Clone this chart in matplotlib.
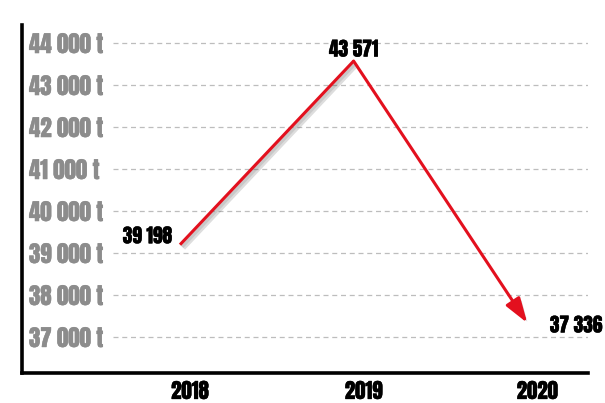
import matplotlib
matplotlib.use("Agg")
import matplotlib.pyplot as plt
import matplotlib.patheffects as pe
from matplotlib.transforms import ScaledTranslation
from matplotlib import font_manager as fm

years = ["2018", "2019", "2020"]
values = [39198, 43571, 37336]
value_labels = ["39 198", "43 571", "37 336"]
yticks = [37000, 38000, 39000, 40000, 41000, 42000, 43000, 44000]
ytick_labels = ["37 000 t", "38 000 t", "39 000 t", "40 000 t",
                "41 000 t", "42 000 t", "43 000 t", "44 000 t"]

def pick_font():
    available = {f.name for f in fm.fontManager.ttflist}
    for name in ["Anton", "Oswald", "Fjalla One", "Archivo Narrow", "Roboto Condensed"]:
        if name in available:
            return fm.FontProperties(family=name, weight="bold"), name
    return fm.FontProperties(family="DejaVu Sans", weight="bold", stretch="condensed"), "DejaVu"

fp, fname = pick_font()

def thick(color):
    return [pe.withStroke(linewidth=0.3, foreground=color)]

fig = plt.figure(figsize=(6.05, 4.03), dpi=100)
ax = fig.add_axes([22/605, 1-373/403, (588-22)/605, (373-25)/403])

ax.set_xlim(-0.91, 2.35)
ax.set_ylim(36143, 44429)

for s in ["top", "right"]:
    ax.spines[s].set_visible(False)
for s in ["left", "bottom"]:
    ax.spines[s].set_linewidth(2.6)
    ax.spines[s].set_color("black")

for y in yticks:
    ax.axhline(y, xmin=(113-22)/(588-22), xmax=1.0, color="#bdbdbd",
               lw=0.9, ls=(0, (4, 3)), zorder=1)

red = "#e3101e"
shadow = [pe.SimpleLineShadow(offset=(2, -2), shadow_color="#555555", alpha=0.2, linewidth=4.5),
          pe.SimpleLineShadow(offset=(1.5, -1.5), shadow_color="#555555", alpha=0.15, linewidth=2.5),
          pe.Normal()]
x = list(range(len(years)))
ax.plot(x[:2], values[:2], color=red, lw=2.2, solid_capstyle="butt",
        path_effects=shadow, zorder=3)
ann = ax.annotate("", xy=(x[2], values[2]), xytext=(x[1], values[1]),
                  arrowprops=dict(arrowstyle="-|>,head_length=1.0,head_width=0.33", color=red, lw=2.2,
                                  mutation_scale=15, shrinkA=0, shrinkB=0),
                  zorder=3)
ann.arrow_patch.set_path_effects([pe.SimplePatchShadow(offset=(2, -2), shadow_rgbFace="#555555", alpha=0.22), pe.Normal()])

fs_val = 14
ax.text(x[0] - 0.045, values[0] + 200, value_labels[0], ha="right", va="center",
        fontproperties=fp, fontsize=fs_val, color="black", path_effects=thick("black"))
ax.text(x[1], values[1] + 60, value_labels[1], ha="center", va="bottom",
        fontproperties=fp, fontsize=fs_val, color="black", path_effects=thick("black"))
ax.text(x[2] + 0.13, values[2] - 60, value_labels[2], ha="left", va="center",
        fontproperties=fp, fontsize=fs_val, color="black", path_effects=thick("black"))

ax.set_yticks(yticks)
ax.set_yticklabels(ytick_labels)
ax.tick_params(axis="y", length=0, pad=-5, labelcolor="#8c8c8c")
for lbl in ax.get_yticklabels():
    lbl.set_horizontalalignment("left")
    lbl.set_fontproperties(fp)
    lbl.set_fontsize(16.5)
    lbl.set_path_effects(thick("#8c8c8c"))

ax.set_xticks(x)
ax.set_xticklabels(years)
ax.tick_params(axis="x", length=0, pad=5, labelcolor="black")
off = ScaledTranslation(10/100, 0, fig.dpi_scale_trans)
for lbl in ax.get_xticklabels():
    lbl.set_fontproperties(fp)
    lbl.set_fontsize(15)
    lbl.set_transform(lbl.get_transform() + off)
    lbl.set_path_effects(thick("black"))

fig.savefig("out.png", dpi=100)
